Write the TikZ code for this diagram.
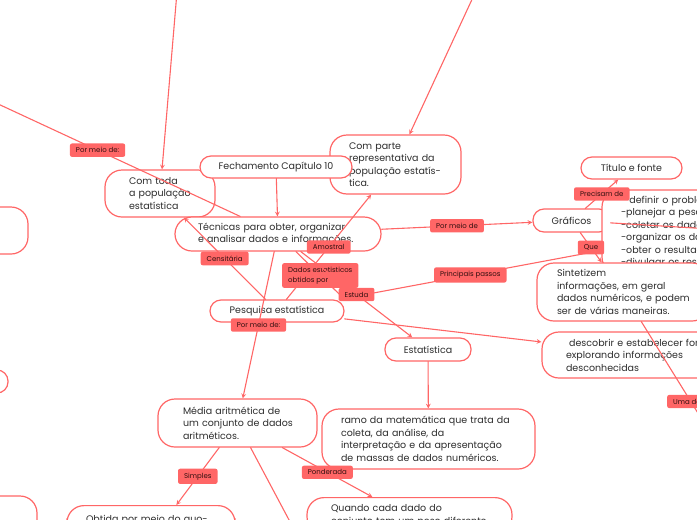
\documentclass[tikz,border=0pt]{standalone}
\usepackage{fontspec}
\setmainfont{Poppins}
\definecolor{mmred}{RGB}{255,102,102}
\definecolor{mmtext}{RGB}{45,45,45}
\definecolor{lbltext}{RGB}{50,15,15}
\begin{document}
\begin{tikzpicture}[x=1pt,y=-1pt,>=stealth, line join=round, line cap=round,
  box/.style={draw=mmred, fill=white, line width=1.2pt, rounded corners=17pt, text=mmtext, font=\fontsize{9.5}{12.5}\selectfont, align=left, inner ysep=0pt, execute at begin node={\hyphenpenalty=10000\exhyphenpenalty=10000}},
  pill/.style={draw=mmred, fill=white, line width=1.2pt, rounded corners=11pt, text=mmtext, font=\fontsize{9.5}{11}\selectfont, minimum height=22pt, inner xsep=0pt},
  conn/.style={draw=mmred, line width=1.1pt},
  lbl/.style={fill=mmred, rounded corners=2pt, text=lbltext, font=\fontsize{7}{9.5}\selectfont, inner xsep=6pt, inner ysep=4pt}]
\useasboundingbox (0,0) rectangle (697,520);
\clip (0,0) rectangle (697,520);
% caixas cortadas na borda esquerda
\node[box, minimum width=128pt, minimum height=47pt] (leftA) at (-36,230.5) {};
\node[pill, minimum width=108pt, minimum height=23pt] (leftB) at (-46,381.5) {};
\node[box, minimum width=137pt, minimum height=64pt] (leftC) at (-31.5,528) {};
% caixas
\node[box, minimum width=131pt, minimum height=59pt, text width=93pt, inner xsep=19pt] (comparte) at (395.5,164.5) {Com parte\\representativa~da\\população~estatís-\\tica.};
\node[box, minimum width=110pt, minimum height=47pt, text width=62pt, inner xsep=24pt] (comtoda) at (160,193.5) {Com~toda\\a~população\\estatística};
\node[pill, minimum width=152pt] (fechamento) at (276,167) {Fechamento Capítulo 10};
\node[box, minimum width=206pt, minimum height=34pt, text width=160pt, inner xsep=23pt] (tecnicas) at (278,234) {Técnicas~para~obter,~organizar\\e~analisar~dados~e~informações.};
\node[pill, minimum width=134pt] (pesquisa) at (277,311) {Pesquisa estatística};
\node[pill, minimum width=86pt, minimum height=23pt] (estatistica) at (428,349.5) {Estatística};
\node[box, minimum width=213pt, minimum height=60pt, text width=175pt, inner xsep=19pt] (ramo) at (428.5,439) {ramo~da~matemática~que~trata~da\\coleta, da análise, da\\interpretação~e~da~apresentação\\de~massas~de~dados~numéricos.};
\node[pill, minimum width=77pt, minimum height=23pt] (graficos) at (571.5,220.5) {Gráficos};
\node[pill, minimum width=101pt] (titulo) at (631.5,168) {Título e fonte};
\node[box, minimum width=198pt, minimum height=84pt, text width=160pt, inner xsep=19pt] (passos) at (701,232) {- definir o problema\\-planejar a pesquisa\\-coletar os dados\\-organizar os dados\\-obter o resultado\\-divulgar os resultados};
\node[box, minimum width=172pt, minimum height=58pt, text width=132pt, inner xsep=20pt] (sintetizem) at (623,292) {Sintetizem\\informações,~em~geral\\dados~numéricos,~e~podem\\ser~de~várias~maneiras.};
\node[box, minimum width=222pt, minimum height=46pt, text width=174pt, inner xsep=24pt] (descobrir) at (653,355) {\ descobrir~e~estabelecer~formas\\explorando~informações\\desconhecidas};
\node[box, minimum width=159pt, minimum height=48pt, text width=109pt, inner xsep=25pt] (media) at (237.5,423) {Média~aritmética~de\\um~conjunto~de~dados\\aritméticos.};
\node[box, anchor=north, minimum width=205pt, text width=157pt, inner xsep=24pt, inner ysep=7pt] (quando) at (409.5,497) {Quando cada dado do\\conjunto~tem~um~peso~diferente};
\node[box, anchor=north, minimum width=168pt, minimum height=30pt, text width=130pt, inner xsep=19pt, inner ysep=8pt] (obtida) at (151,505) {Obtida~por~meio~do~quo-};
% pontas fora do quadro
\coordinate (topA) at (178,-20);
\coordinate (topB) at (481,-20);
\coordinate (farL) at (-60,77);
\coordinate (farR) at (760,232);
\coordinate (farB) at (305,550);
\coordinate (farU) at (758,510);
% ligacoes
\draw[conn,->] (topA) -- (comtoda);
\draw[conn,->] (topB) -- (comparte);
\draw[conn] (tecnicas) -- node[lbl,pos=.475]{Por meio de:} (farL);
\draw[conn,->] (fechamento) -- (tecnicas);
\draw[conn,->] (pesquisa) -- node[lbl]{Censitária} (comtoda);
\draw[conn,->] (pesquisa) -- node[lbl]{Amostral} (comparte);
\draw[conn,->] (tecnicas) -- node[lbl,align=left]{Dados estatisticos\\obtidos por} (pesquisa.north east);
\draw[conn,->] (pesquisa) -- node[lbl]{Principais passos} (passos);
\draw[conn,->] (tecnicas) -- node[lbl]{Estuda} (estatistica);
\draw[conn,->] (tecnicas) -- node[lbl]{Por meio de:} (media);
\draw[conn,->] (pesquisa) -- (descobrir);
\draw[conn,->] (tecnicas) -- node[lbl]{Por meio de} (graficos);
\draw[conn,->] (graficos) -- node[lbl]{Precisam de} (titulo);
\draw[conn] (graficos) -- (farR);
\draw[conn,->] (graficos) -- node[lbl]{Que} (sintetizem);
\draw[conn,->] (estatistica) -- (ramo);
\draw[conn] (sintetizem) -- (farU);
\node[lbl, anchor=west] (umadas) at (667,401.5) {Uma das};
\draw[conn,->] (media) -- node[lbl]{Simples} ([xshift=110pt]obtida.north west);
\draw[conn,->] (media) -- node[lbl]{Ponderada} ([xshift=66pt]quando.north west);
\draw[conn] (media) -- (farB);
\end{tikzpicture}
\end{document}
